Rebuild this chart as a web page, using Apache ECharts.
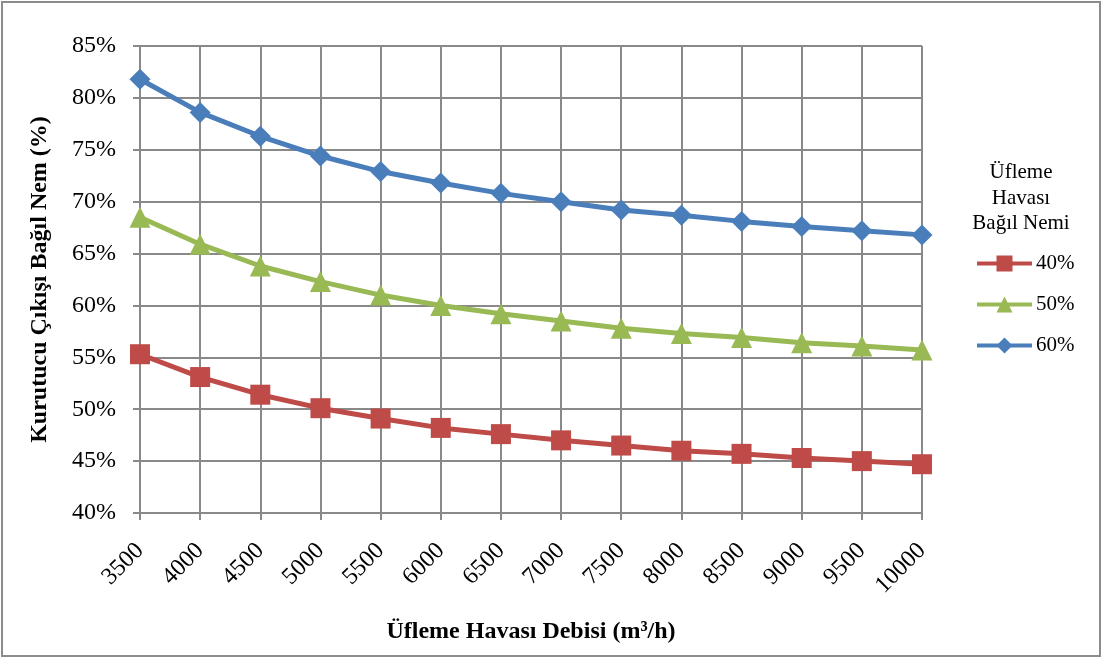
<!DOCTYPE html>
<html>
<head>
<meta charset="utf-8">
<script src="https://cdn.jsdelivr.net/npm/echarts@6/dist/echarts.min.js"></script>
<style>
  html, body { margin: 0; padding: 0; background: #fff; }
  #chart { width: 1104px; height: 659px; }
</style>
</head>
<body>
<div id="chart"></div>
<script>
// Blowing air flow rate (m³/h)
const flowRates = ['3500', '4000', '4500', '5000', '5500', '6000', '6500', '7000',
                   '7500', '8000', '8500', '9000', '9500', '10000'];

// Dryer outlet relative humidity (%) for each inlet humidity
const rh40 = [55.3, 53.1, 51.4, 50.1, 49.1, 48.2, 47.6, 47.0, 46.5, 46.0, 45.7, 45.3, 45.0, 44.7];
const rh50 = [68.5, 65.9, 63.8, 62.3, 61.0, 60.0, 59.2, 58.5, 57.8, 57.3, 56.9, 56.4, 56.1, 55.7];
const rh60 = [81.8, 78.6, 76.3, 74.4, 72.9, 71.8, 70.8, 70.0, 69.2, 68.7, 68.1, 67.6, 67.2, 66.8];

const seriesNames = ['40%', '50%', '60%'];
const legendTitle = 'Üfleme\nHavası\nBağıl Nemi';

const FONT = '"Liberation Serif", "Times New Roman", serif';
const GRIDCOL = '#898989';

const chart = echarts.init(document.getElementById('chart'), null, { renderer: 'canvas' });

function lineSeries(name, data, color, symbol, size) {
  return {
    name: name,
    type: 'line',
    data: data,
    symbol: symbol,
    symbolSize: size,
    showSymbol: true,
    lineStyle: { color: color, width: 5 },
    itemStyle: { color: color },
    emphasis: { disabled: true },
    animation: false
  };
}

chart.setOption({
  backgroundColor: '#fff',
  animation: false,
  graphic: [
    {
      type: 'rect',
      shape: { x: 2, y: 2, width: 1098, height: 654 },
      style: { fill: 'none', stroke: '#8c8c8c', lineWidth: 2 },
      silent: true
    },
    {
      type: 'text',
      x: 1021,
      y: 160,
      style: {
        text: legendTitle,
        font: '21px ' + FONT,
        fill: '#000',
        align: 'center',
        verticalAlign: 'top',
        lineHeight: 25.5
      },
      silent: true
    }
  ],
  legend: {
    orient: 'vertical',
    left: 970,
    top: 248,
    itemWidth: 55,
    itemHeight: 20,
    itemGap: 20,
    data: seriesNames,
    lineStyle: { width: 4 },
    textStyle: { fontFamily: FONT, fontSize: 21, color: '#000', padding: [0, 0, 0, -1] },
    selectedMode: false
  },
  grid: {
    left: 140,
    top: 46,
    width: 782,
    height: 467,
    containLabel: false
  },
  xAxis: {
    type: 'category',
    data: flowRates,
    boundaryGap: false,
    name: 'Üfleme Havası Debisi (m³/h)',
    nameLocation: 'middle',
    nameGap: 107,
    nameTextStyle: { fontFamily: FONT, fontSize: 24, fontWeight: 'bold', color: '#000' },
    axisLine: { show: true, lineStyle: { color: GRIDCOL, width: 2 } },
    axisTick: { show: true, alignWithLabel: true, length: 7, lineStyle: { color: GRIDCOL, width: 2 } },
    axisLabel: {
      rotate: 45,
      margin: 34,
      fontFamily: FONT,
      fontSize: 24,
      color: '#000',
      interval: 0
    },
    splitLine: { show: true, lineStyle: { color: GRIDCOL, width: 2 } }
  },
  yAxis: {
    type: 'value',
    min: 40,
    max: 85,
    interval: 5,
    name: 'Kurutucu Çıkışı Bağıl Nem (%)',
    nameLocation: 'middle',
    nameGap: 88,
    nameTextStyle: { fontFamily: FONT, fontSize: 24, fontWeight: 'bold', color: '#000' },
    axisLine: { show: true, lineStyle: { color: GRIDCOL, width: 2 } },
    axisTick: { show: true, length: 7, lineStyle: { color: GRIDCOL, width: 2 } },
    axisLabel: {
      formatter: '{value}%',
      margin: 24,
      fontFamily: FONT,
      fontSize: 24,
      color: '#000'
    },
    splitLine: { show: true, lineStyle: { color: GRIDCOL, width: 2 } }
  },
  series: [
    lineSeries(seriesNames[0], rh40, '#BE4B48', 'rect', 20),
    lineSeries(seriesNames[1], rh50, '#98B954', 'triangle', 21),
    lineSeries(seriesNames[2], rh60, '#4A7EBB', 'diamond', 21)
  ]
});
</script>
</body>
</html>
